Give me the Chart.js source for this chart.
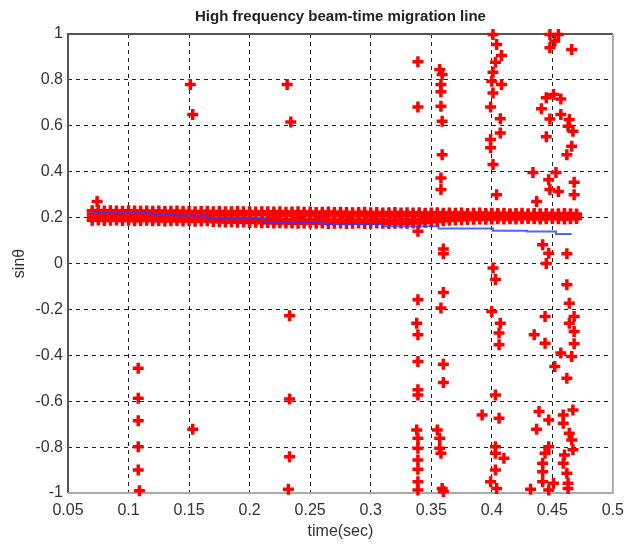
<!DOCTYPE html>
<html>
<head>
<meta charset="utf-8">
<script src="https://cdn.jsdelivr.net/npm/chart.js@4.4.0/dist/chart.umd.min.js"></script>
<style>
  html, body { margin: 0; padding: 0; background: #fff; }
</style>
</head>
<body>
<canvas id="grafico-migracao" width="632" height="545"></canvas>
<script>
// eixos
const xTicks = [0.05, 0.1, 0.15, 0.2, 0.25, 0.3, 0.35, 0.4, 0.45, 0.5];
const xTickLabels = ['0.05', '0.1', '0.15', '0.2', '0.25', '0.3', '0.35', '0.4', '0.45', '0.5'];
const yTicks = [-1, -0.8, -0.6, -0.4, -0.2, 0, 0.2, 0.4, 0.6, 0.8, 1];
const yTickLabels = ['-1', '-0.8', '-0.6', '-0.4', '-0.2', '0', '0.2', '0.4', '0.6', '0.8', '1'];

// faixa densa de deteccoes em torno de sin = 0.2 (quatro fileiras)
const bandTimes = [
  0.07, 0.075, 0.08, 0.085, 0.09, 0.095, 0.1, 0.105, 0.11, 0.115,
  0.12, 0.125, 0.13, 0.135, 0.14, 0.145, 0.15, 0.155, 0.16, 0.165,
  0.17, 0.175, 0.18, 0.185, 0.19, 0.195, 0.2, 0.205, 0.21, 0.215,
  0.22, 0.225, 0.23, 0.235, 0.24, 0.245, 0.25, 0.255, 0.26, 0.265,
  0.27, 0.275, 0.28, 0.285, 0.29, 0.295, 0.3, 0.305, 0.31, 0.315,
  0.32, 0.325, 0.33, 0.335, 0.34, 0.345, 0.35, 0.355, 0.36, 0.365,
  0.37, 0.375, 0.38, 0.385, 0.39, 0.395, 0.4, 0.405, 0.41, 0.415,
  0.42, 0.425, 0.43, 0.435, 0.44, 0.445, 0.45, 0.455, 0.46, 0.465,
  0.47
];
const bandRowA = [
  0.230, 0.231, 0.229, 0.230, 0.229, 0.228, 0.230, 0.229, 0.228, 0.229,
  0.228, 0.229, 0.227, 0.228, 0.229, 0.227, 0.228, 0.226, 0.227, 0.228,
  0.226, 0.227, 0.225, 0.226, 0.227, 0.225, 0.226, 0.224, 0.225, 0.226,
  0.224, 0.225, 0.223, 0.224, 0.225, 0.223, 0.224, 0.222, 0.223, 0.224,
  0.222, 0.223, 0.222, 0.221, 0.222, 0.223, 0.221, 0.222, 0.220, 0.221,
  0.222, 0.220, 0.221, 0.220, 0.221, 0.219, 0.220, 0.221, 0.219, 0.220,
  0.219, 0.220, 0.218, 0.219, 0.220, 0.218, 0.219, 0.218, 0.219, 0.217,
  0.218, 0.219, 0.217, 0.218, 0.217, 0.218, 0.216, 0.217, 0.218, 0.217,
  0.216
];
const bandRowB = [
  0.216, 0.217, 0.215, 0.216, 0.217, 0.215, 0.216, 0.214, 0.215, 0.216,
  0.215, 0.214, 0.216, 0.215, 0.214, 0.215, 0.213, 0.214, 0.215, 0.213,
  0.213, 0.214, 0.212, 0.213, 0.214, 0.212, 0.212, 0.213, 0.214, 0.212,
  0.211, 0.212, 0.210, 0.211, 0.212, 0.210, 0.211, 0.209, 0.210, 0.211,
  0.209, 0.210, 0.209, 0.210, 0.211, 0.209, 0.210, 0.209, 0.210, 0.208,
  0.209, 0.210, 0.209, 0.210, 0.211, 0.210, 0.211, 0.212, 0.211, 0.212,
  0.212, 0.211, 0.213, 0.212, 0.213, 0.212, 0.211, 0.212, 0.211, 0.212,
  0.212, 0.211, 0.210, 0.211, 0.212, 0.211, 0.210, 0.211, 0.212, 0.211,
  0.210
];
const bandRowC = [
  0.202, 0.203, 0.201, 0.202, 0.203, 0.201, 0.202, 0.200, 0.201, 0.202,
  0.200, 0.201, 0.199, 0.200, 0.201, 0.199, 0.200, 0.198, 0.199, 0.200,
  0.197, 0.196, 0.195, 0.196, 0.194, 0.195, 0.193, 0.194, 0.192, 0.193,
  0.191, 0.192, 0.190, 0.191, 0.189, 0.190, 0.191, 0.189, 0.190, 0.188,
  0.189, 0.190, 0.188, 0.189, 0.190, 0.188, 0.189, 0.190, 0.189, 0.188,
  0.189, 0.190, 0.189, 0.190, 0.191, 0.192, 0.193, 0.194, 0.195, 0.196,
  0.197, 0.198, 0.199, 0.198, 0.199, 0.200, 0.199, 0.200, 0.201, 0.200,
  0.201, 0.200, 0.201, 0.202, 0.201, 0.200, 0.201, 0.202, 0.201, 0.200,
  0.201
];
const bandRowD = [
  0.188, 0.189, 0.187, 0.188, 0.189, 0.187, 0.188, 0.186, 0.187, 0.188,
  0.186, 0.187, 0.185, 0.186, 0.187, 0.185, 0.186, 0.184, 0.185, 0.186,
  0.183, 0.182, 0.181, 0.182, 0.180, 0.181, 0.179, 0.180, 0.178, 0.179,
  0.177, 0.178, 0.176, 0.177, 0.175, 0.176, 0.177, 0.175, 0.176, 0.174,
  0.175, 0.176, 0.174, 0.175, 0.176, 0.174, 0.175, 0.176, 0.175, 0.174,
  0.175, 0.176, 0.175, 0.177, 0.178, 0.180, 0.182, 0.184, 0.186, 0.188,
  0.190, 0.191, 0.192, 0.193, 0.194, 0.193, 0.194, 0.195, 0.194, 0.195,
  0.194, 0.195, 0.196, 0.195, 0.194, 0.195, 0.196, 0.195, 0.194, 0.195,
  0.196
];

// deteccoes espalhadas
const scatterTimes = [
  0.074,
  0.108, 0.108, 0.108, 0.108, 0.108, 0.109,
  0.151, 0.153, 0.153,
  0.231, 0.234, 0.233, 0.233, 0.233, 0.232,
  0.339, 0.339, 0.339, 0.339, 0.338, 0.339, 0.339, 0.339, 0.339, 0.338, 0.339, 0.339, 0.339, 0.339, 0.339, 0.339,
  0.357, 0.359, 0.358, 0.358, 0.358, 0.359, 0.359, 0.358, 0.358, 0.360, 0.360, 0.360, 0.358, 0.360, 0.360, 0.355, 0.357, 0.357, 0.358, 0.359, 0.360,
  0.401, 0.404, 0.408, 0.403, 0.401, 0.400, 0.408, 0.401, 0.399, 0.407, 0.407, 0.399, 0.399, 0.401, 0.404,
  0.401, 0.403, 0.400, 0.407, 0.406, 0.406, 0.403, 0.392, 0.406, 0.403, 0.403, 0.410, 0.403, 0.399, 0.404,
  0.448, 0.455, 0.452, 0.448, 0.466, 0.445, 0.451, 0.457, 0.441, 0.457, 0.448, 0.464, 0.463, 0.467, 0.445, 0.466, 0.462, 0.434, 0.453, 0.447, 0.468, 0.448, 0.455, 0.468, 0.437, 0.442,
  0.447, 0.462, 0.445, 0.462, 0.464, 0.468, 0.444, 0.464, 0.435, 0.468, 0.444, 0.468, 0.457, 0.466, 0.452, 0.462, 0.467, 0.439, 0.447, 0.459, 0.437, 0.459, 0.464, 0.466, 0.447, 0.444, 0.460, 0.467, 0.442, 0.459, 0.442, 0.462, 0.442, 0.451, 0.463, 0.432, 0.447, 0.463
];
const scatterSin = [
  0.27,
  -0.456, -0.587, -0.685, -0.798, -0.90, -0.99,
  0.78, 0.649, -0.722,
  0.78, 0.617, -0.228, -0.59, -0.842, -0.984,
  0.879, 0.682, 0.14, -0.158, -0.26, -0.311, -0.427, -0.55, -0.573, -0.725, -0.761, -0.805, -0.856, -0.897, -0.951, -0.987,
  0.845, 0.823, 0.78, 0.748, 0.685, 0.62, 0.474, 0.373, 0.322, 0.063, 0.043, -0.126, -0.194, -0.439, -0.519, -0.725, -0.761, -0.805, -0.827, -0.98, -0.994,
  0.998, 0.954, 0.906, 0.877, 0.833, 0.794, 0.78, 0.743, 0.682, 0.631, 0.569, 0.54, 0.504, 0.431, 0.30,
  -0.02, -0.07, -0.209, -0.26, -0.303, -0.354, -0.573, -0.66, -0.674, -0.798, -0.827, -0.849, -0.90, -0.951, -0.98,
  0.998, 0.998, 0.97, 0.94, 0.932, 0.722, 0.736, 0.717, 0.674, 0.649, 0.63, 0.627, 0.598, 0.576, 0.552, 0.511, 0.474, 0.397, 0.397, 0.365, 0.354, 0.322, 0.314, 0.30, 0.27, 0.082,
  0.045, 0.043, 0.0, -0.093, -0.173, -0.231, -0.231, -0.26, -0.311, -0.296, -0.347, -0.35, -0.39, -0.405, -0.449, -0.50, -0.638, -0.645, -0.682, -0.66, -0.722, -0.696, -0.74, -0.769, -0.798, -0.827, -0.834, -0.812, -0.87, -0.87, -0.907, -0.914, -0.951, -0.958, -0.958, -0.984, -0.987, -0.98
];

// linha de migracao (azul)
const trendTimes = [0.068, 0.117, 0.140, 0.165, 0.213, 0.261, 0.310, 0.356, 0.401, 0.429, 0.453, 0.466];
const trendSin = [0.221, 0.215, 0.209, 0.196, 0.181, 0.172, 0.162, 0.152, 0.143, 0.139, 0.128, 0.128];

const pontos = (tt, ss) => tt.map((t, i) => ({ x: t, y: ss[i] }));

const deteccoes = pontos(scatterTimes, scatterSin)
  .concat(pontos(bandTimes, bandRowA))
  .concat(pontos(bandTimes, bandRowB))
  .concat(pontos(bandTimes, bandRowC))
  .concat(pontos(bandTimes, bandRowD));

// moldura estilo matlab
const moldura = {
  id: 'moldura',
  beforeDatasetsDraw(chart) {
    const { ctx, chartArea: a } = chart;
    ctx.save();
    ctx.lineWidth = 2;
    ctx.strokeStyle = '#555';
    ctx.beginPath();
    ctx.moveTo(a.left, a.bottom);
    ctx.lineTo(a.left, a.top);
    ctx.lineTo(a.right, a.top);
    ctx.stroke();
    ctx.strokeStyle = '#aaa';
    ctx.beginPath();
    ctx.moveTo(a.left, a.bottom);
    ctx.lineTo(a.right, a.bottom);
    ctx.lineTo(a.right, a.top);
    ctx.stroke();
    ctx.restore();
  }
};

Chart.defaults.font.family = '"Liberation Sans", Arial, sans-serif';

const ctx1 = document.getElementById('grafico-migracao');
new Chart(ctx1, {
  type: 'scatter',
  data: {
    datasets: [
      {
        label: 'migration line',
        data: pontos(trendTimes, trendSin),
        showLine: true,
        stepped: 'before',
        borderColor: 'rgba(40, 60, 255, 0.8)',
        borderWidth: 2,
        pointRadius: 0,
        clip: false
      },
      {
        label: 'detections',
        data: deteccoes,
        pointStyle: 'cross',
        pointRadius: 5.5,
        pointBorderWidth: 3.5,
        borderColor: '#ff0000',
        backgroundColor: '#ff0000',
        clip: false
      }
    ]
  },
  options: {
    responsive: false,
    animation: false,
    layout: { padding: { right: 15 } },
    plugins: {
      legend: { display: false },
      tooltip: { enabled: false },
      title: {
        display: true,
        fullSize: false,
        text: 'High frequency beam-time migration line',
        color: '#222',
        font: { size: 15, weight: 'bold' },
        padding: { top: 8, bottom: 8 }
      }
    },
    scales: {
      x: {
        type: 'linear',
        min: 0.05,
        max: 0.5,
        afterBuildTicks: (scale) => { scale.ticks = xTicks.map(v => ({ value: v })); },
        afterFit: (scale) => { scale.height = 52; },
        ticks: {
          autoSkip: false,
          maxRotation: 0,
          padding: 8,
          color: '#333',
          font: { size: 16 },
          callback: (v, i) => xTickLabels[i]
        },
        grid: { color: '#222', lineWidth: 1, drawTicks: false },
        border: { display: false, dash: [4, 4] },
        title: {
          display: true,
          text: 'time(sec)',
          color: '#333',
          font: { size: 16 },
          padding: { top: 0, bottom: 4 }
        }
      },
      y: {
        type: 'linear',
        min: -1,
        max: 1,
        afterBuildTicks: (scale) => { scale.ticks = yTicks.map(v => ({ value: v })); },
        afterFit: (scale) => { scale.width = 68; },
        ticks: {
          autoSkip: false,
          padding: 5,
          color: '#333',
          font: { size: 16 },
          callback: (v, i) => yTickLabels[i]
        },
        grid: { color: '#222', lineWidth: 1, drawTicks: false },
        border: { display: false, dash: [4, 4] },
        title: {
          display: true,
          text: 'sinθ',
          color: '#333',
          font: { size: 16 },
          padding: { top: 10, bottom: 0 }
        }
      }
    }
  },
  plugins: [moldura]
});
</script>
</body>
</html>
